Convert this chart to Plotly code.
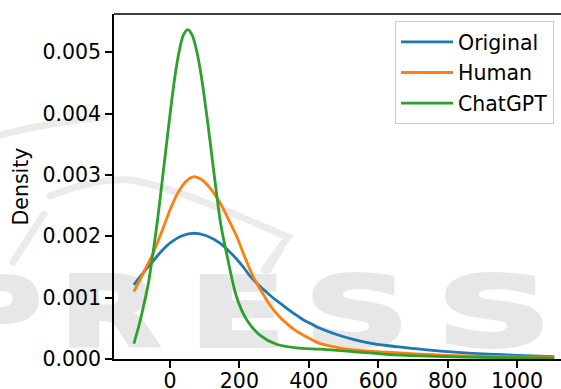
import base64
import plotly.graph_objects as go

# ---- data (KDE curves) ----
x_original = [-104, -76, -48, -24, 0, 35, 70, 105, 144, 168, 192, 211, 231, 260, 288, 312, 336, 360, 384,
              408, 432, 480, 528, 576, 624, 672, 720, 850, 1000, 1107]
y_original = [0.00121, 0.00141, 0.00160, 0.00176, 0.00189, 0.00201, 0.00205, 0.00201, 0.00189, 0.00177,
              0.00163, 0.00150, 0.00135, 0.00118, 0.00104, 0.00093, 0.00083, 0.00073, 0.00064, 0.00057,
              0.00050, 0.00040, 0.00032, 0.00026, 0.00022, 0.00019, 0.00016, 0.00010, 0.00006, 0.00004]

x_human = [-104, -76, -48, -24, 0, 22, 45, 67, 90, 115, 144, 170, 192, 215, 240, 264, 288, 312, 336, 360,
           384, 432, 480, 528, 624, 720, 850, 1000, 1107]
y_human = [0.00110, 0.00141, 0.00173, 0.00207, 0.00243, 0.00270, 0.00289, 0.00297, 0.00293, 0.00279,
           0.00255, 0.00226, 0.00200, 0.00167, 0.00134, 0.00110, 0.00088, 0.00071, 0.00058, 0.00047,
           0.00039, 0.000255, 0.00019, 0.000147, 0.00011, 0.00008, 0.00005, 0.000035, 0.00003]

x_chatgpt = [-104, -90, -77, -62, -48, -35, -21, -10, 2, 14, 26, 38, 51, 64, 77, 90, 104, 116, 128, 146,
             165, 192, 221, 259, 307, 365, 432, 528, 624, 720, 850, 1000, 1107]
y_chatgpt = [0.00025, 0.00053, 0.00084, 0.00124, 0.00176, 0.00230, 0.00297, 0.00350, 0.00407, 0.00459,
             0.00500, 0.00527, 0.00537, 0.00528, 0.00502, 0.00462, 0.00406, 0.00353, 0.00298, 0.00221,
             0.00167, 0.00101, 0.00064, 0.00039, 0.00024, 0.00018, 0.00016, 0.00012, 0.000076, 0.00005,
             0.00003, 0.00002, 0.000015]

series_names = ["Original", "Human", "ChatGPT"]
series_colors = ["#1f77b4", "#ff7f0e", "#2ca02c"]

x_ticks = [0, 200, 400, 600, 800, 1000]
y_ticks = [0.000, 0.001, 0.002, 0.003, 0.004, 0.005]

FONT = "DejaVu Sans, Verdana, sans-serif"
FS = 20.5

# ---- faint background watermark (decoration) ----
letters = [("P", -40, 1.15), ("R", 60, 1.35), ("E", 190, 1.45), ("S", 305, 1.5), ("S", 437, 1.65)]
txt = "".join(
    f'<g transform="translate({x},346) scale({s},1)"><text x="0" y="0">{ch}</text></g>'
    for ch, x, s in letters)
svg = f"""<svg xmlns="http://www.w3.org/2000/svg" width="561" height="389" viewBox="0 0 561 389">
<g fill="#e7e7e7" stroke="#e7e7e7" stroke-width="4" font-family="DejaVu Sans, Liberation Sans, sans-serif" font-weight="bold" font-size="96">{txt}</g>
<g fill="none" stroke="#ebebeb" stroke-width="7" stroke-linecap="round">
<path d="M0,135 C30,127 60,121 105,117"/>
<path d="M50,196 C80,184 105,178 130,180 C170,186 230,212 288,237 L264,270"/>
<path d="M13,262 L44,214"/>
<path d="M268,270 L280,250"/>
</g>
</svg>"""
svg_uri = "data:image/svg+xml;base64," + base64.b64encode(svg.encode()).decode()

L, R, T, B = 114, 0, 14, 30
W, H = 561, 389
pw, ph = W - L - R, H - T - B

fig = go.Figure()
for xs, ys, name, col in zip([x_original, x_human, x_chatgpt],
                             [y_original, y_human, y_chatgpt],
                             series_names, series_colors):
    fig.add_trace(go.Scatter(x=xs, y=ys, mode="lines", name=name, legendgroup=name,
                             line=dict(color=col, width=2.8, shape="spline", smoothing=0.8),
                             hoverinfo="skip"))

fig.update_layout(
    width=W, height=H,
    margin=dict(l=L, r=R, t=T, b=B, pad=0),
    paper_bgcolor="white",
    plot_bgcolor="rgba(0,0,0,0)",
    font=dict(family=FONT, size=FS, color="black"),
    showlegend=True,
    legend=dict(x=(395 - L) / pw, y=(H - B - 21) / ph, xanchor="left", yanchor="top",
                bgcolor="rgba(255,255,255,0.8)", bordercolor="#cccccc", borderwidth=1,
                font=dict(family=FONT, size=FS, color="black"),
                tracegroupgap=1, itemwidth=52, entrywidth=200),
    images=[dict(source=svg_uri, xref="paper", yref="paper",
                 x=-L / pw, y=(H - B) / ph, sizex=W / pw, sizey=H / ph,
                 xanchor="left", yanchor="top", sizing="stretch", layer="below")],
)
fig.update_xaxes(range=[-161.2, 1126.6], tickvals=x_ticks, ticks="outside", ticklen=7, tickwidth=1.5,
                 tickcolor="black", showline=True, linecolor="black", linewidth=1.5, mirror=False,
                 showgrid=False, zeroline=False, automargin=False, ticklabelstandoff=-4,
                 tickfont=dict(family=FONT, size=FS, color="black"))
fig.update_yaxes(range=[0, 0.005624], tickvals=y_ticks, tickformat=".3f", ticks="outside", ticklen=7,
                 tickwidth=1.5, tickcolor="black", showline=True, linecolor="black", linewidth=1.5,
                 mirror=False, showgrid=False, zeroline=False, automargin=False,
                 tickfont=dict(family=FONT, size=FS, color="black"),
                 title=dict(text="Density", standoff=8, font=dict(family=FONT, size=FS, color="black")))
# top spine
fig.add_shape(type="line", xref="paper", yref="paper", x0=0, x1=1, y0=1, y1=1,
              line=dict(color="black", width=1.5))

fig.write_html("out.html", config={"displayModeBar": False})
